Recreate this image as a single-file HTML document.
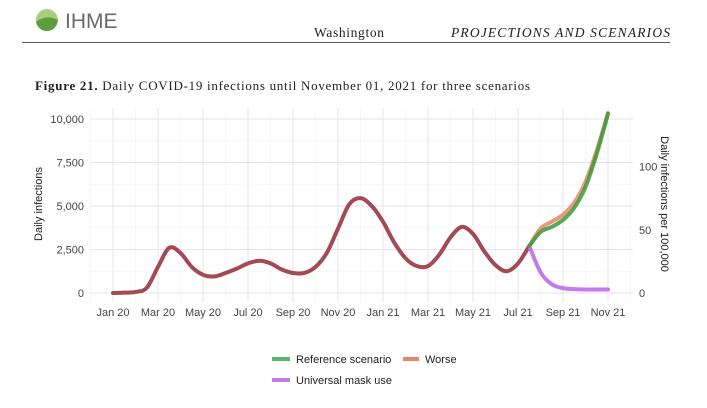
<!DOCTYPE html>
<html><head><meta charset="utf-8"><style>
body{margin:0;background:#fff;width:707px;height:408px;overflow:hidden;font-family:"Liberation Sans",sans-serif}
svg{display:block}
</style></head><body>
<svg width="707" height="408">
<g>
<circle cx="47" cy="20" r="11" fill="#a9cf7e"/>
<path d="M36,22 Q46,14 58,20 Q56,31 46,31 Q38,30 36,22Z" fill="#5c9e3d"/>
<text x="65" y="28" font-size="21" fill="#6a6a6a">IHME</text>
</g>
<text x="314" y="37" font-family="Liberation Serif,serif" font-size="13.5" fill="#222" textLength="70">Washington</text>
<text x="451" y="37" font-family="Liberation Serif,serif" font-style="italic" font-size="13.5" fill="#222" textLength="219">PROJECTIONS AND SCENARIOS</text>
<line x1="22" y1="42.5" x2="670" y2="42.5" stroke="#555" stroke-width="1"/>
<text x="35" y="90" font-family="Liberation Serif,serif" font-size="13" fill="#222" textLength="495"><tspan font-weight="bold">Figure 21.</tspan> Daily COVID-19 infections until November 01, 2021 for three scenarios</text>
<g id="grid"></g>
<g id="axes"></g>
<g id="series"></g>
<text transform="translate(42,204) rotate(-90)" text-anchor="middle" font-size="11" fill="#222">Daily infections</text>
<text transform="translate(661,204) rotate(90)" text-anchor="middle" font-size="11" fill="#222">Daily infections per 100,000</text>
<g>
<line x1="272" y1="359" x2="290" y2="359" stroke="#5cb56a" stroke-width="4"/>
<text x="296" y="363" font-size="11" fill="#222">Reference scenario</text>
<line x1="403" y1="359" x2="419" y2="359" stroke="#e8876a" stroke-width="4"/>
<text x="425" y="363" font-size="11" fill="#222">Worse</text>
<line x1="272" y1="380" x2="290" y2="380" stroke="#c27be8" stroke-width="4"/>
<text x="296" y="384" font-size="11" fill="#222">Universal mask use</text>
</g>
</svg>
<script>
const histT=[0,0.5,1,1.5,2,2.5,3,3.5,4,4.5,5,5.5,6,6.5,7,7.5,8,8.5,9,9.5,10,10.5,11,11.5,12,12.5,13,13.5,14,14.5,15,15.5,16,16.5,17,17.5,18,18.5];
const histV=[0,20,60,300,1500,2600,2300,1500,1050,950,1150,1400,1700,1850,1700,1350,1150,1150,1500,2300,3700,5100,5450,5000,4100,2900,2000,1550,1550,2200,3200,3800,3400,2400,1600,1250,1700,2700];
const projT=[18.5,19,19.5,20,20.5,21,21.5,22];
const refV=[2700,3500,3800,4200,4900,6100,8000,10300];
const worseV=[2700,3700,4100,4500,5200,6400,8200,10350];
const maskV=[2700,1200,500,280,220,200,200,200];
const yTicks=[0,2500,5000,7500,10000];
const yTickLabels=["0","2,500","5,000","7,500","10,000"];
const y2Ticks=[0,50,100];
const xTickMonths=[0,2,4,6,8,10,12,14,16,18,20,22];
const xTickLabels=["Jan 20","Mar 20","May 20","Jul 20","Sep 20","Nov 20","Jan 21","Mar 21","May 21","Jul 21","Sep 21","Nov 21"];
const NS="http://www.w3.org/2000/svg";
const X=t=>113+22.5*t, Y=v=>293-v*0.0174;
const Y2=p=>293-p*1.265;
const L=90,R=633,T=108,B=302;
function mk(tag,attrs,parent){const e=document.createElementNS(NS,tag);for(const k in attrs)e.setAttribute(k,attrs[k]);parent.appendChild(e);return e;}
const grid=document.getElementById('grid'),axes=document.getElementById('axes'),series=document.getElementById('series');
for(let m=-1;m<=23;m++){const x=X(m);if(x<L||x>R)continue;
 const g=mk('line',{x1:x,y1:T,x2:x,y2:B,stroke:m%2===0?'#e6e6e6':'#f2f2f2','stroke-width':m%2===0?1:0.6},grid);
 }
for(let v=-1250;v<=11250;v+=1250){const y=Y(v);if(y<T||y>B)continue;
 const g=mk('line',{x1:L,y1:y,x2:R,y2:y,stroke:v%2500===0?'#e6e6e6':'#f2f2f2','stroke-width':v%2500===0?1:0.6},grid);
 }
yTicks.forEach((v,i)=>{const t=mk('text',{x:84,y:Y(v)+4,'text-anchor':'end','font-size':11,fill:'#444'},axes);t.textContent=yTickLabels[i];
 });
y2Ticks.forEach(p=>{const t=mk('text',{x:639,y:Y2(p)+4,'font-size':11,fill:'#444'},axes);t.textContent=String(p);
 });
xTickMonths.forEach((m,i)=>{const t=mk('text',{x:X(m),y:316,'text-anchor':'middle','font-size':11,fill:'#444'},axes);t.textContent=xTickLabels[i];
 });
function path(ts,vs){const p=ts.map((t,i)=>[X(t),Y(vs[i])]);let d='M'+p[0][0]+','+p[0][1];
 for(let i=0;i<p.length-1;i++){const p0=p[i-1]||p[i],p1=p[i],p2=p[i+1],p3=p[i+2]||p2;
  d+=` C${p1[0]+(p2[0]-p0[0])/6},${p1[1]+(p2[1]-p0[1])/6} ${p2[0]-(p3[0]-p1[0])/6},${p2[1]-(p3[1]-p1[1])/6} ${p2[0]},${p2[1]}`;}return d;}
const h=mk('path',{d:path(histT,histV),fill:'none',stroke:'#a34a52','stroke-width':4,'stroke-linecap':'round'},series);

const mm=mk('path',{d:path(projT,maskV),fill:'none',stroke:'#c27be8','stroke-width':4,'stroke-linecap':'round'},series);

const w=mk('path',{d:path(projT,worseV),fill:'none',stroke:'#e8876a','stroke-width':4,'stroke-linecap':'round','opacity':0.85},series);

const r=mk('path',{d:path(projT,refV),fill:'none',stroke:'#3a9a3a','stroke-width':4,'stroke-linecap':'round','opacity':0.85},series);

</script>
</body></html>
